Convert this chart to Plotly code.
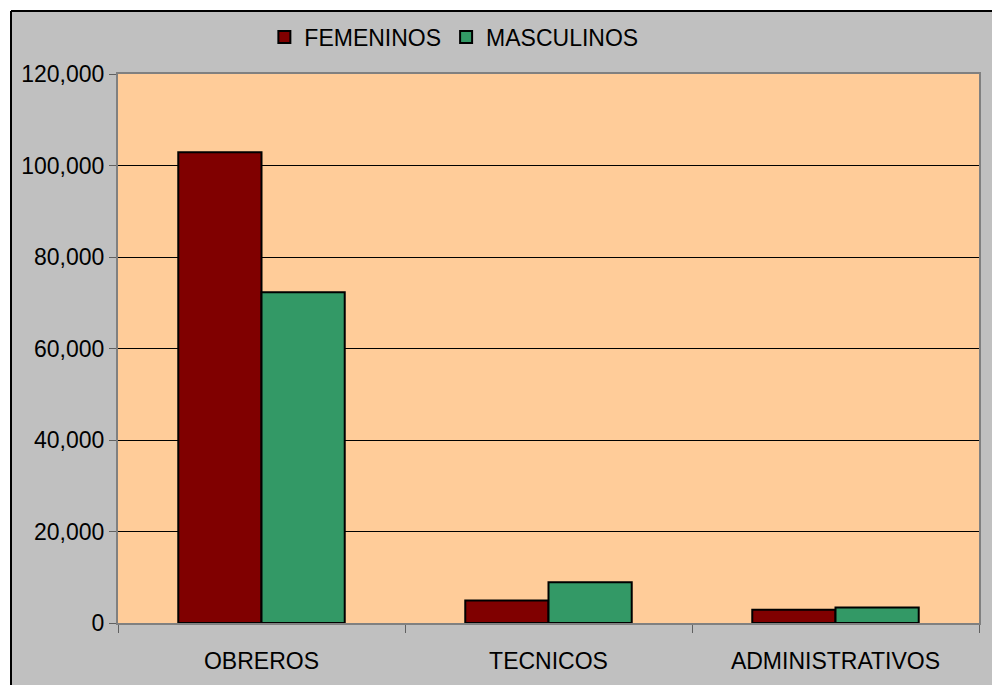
"""Workers by category and sex -- clustered column chart in the old Excel look."""

import plotly.graph_objects as go

CATEGORIES = ["OBREROS", "TECNICOS", "ADMINISTRATIVOS"]
FEMENINOS = [102900, 4900, 2900]
MASCULINOS = [72300, 8900, 3400]
Y_TICKS = [0, 20000, 40000, 60000, 80000, 100000, 120000]

FONT = "Liberation Sans, Arial, sans-serif"
GRAY_BG = "#C0C0C0"

# plot area in pixels, used to place the white frame outside the gray chart area
W, H = 992, 685
L, R, T, B = 118, 13, 74, 62
PW, PH = W - L - R, H - T - B

fig = go.Figure()
fig.add_bar(
    name="FEMENINOS",
    x=CATEGORIES,
    y=FEMENINOS,
    marker=dict(color="#800000", line=dict(color="black", width=2)),
)
fig.add_bar(
    name="MASCULINOS",
    x=CATEGORIES,
    y=MASCULINOS,
    marker=dict(color="#339966", line=dict(color="black", width=2)),
)

# white strips top and left, with the black edge of the chart area
edge_x = -(L - 11) / PW
edge_y = 1 + (T - 11) / PH
fig.add_shape(type="rect", xref="paper", yref="paper",
              x0=-L / PW, x1=1 + R / PW, y0=edge_y, y1=1 + T / PH,
              fillcolor="white", line_width=0)
fig.add_shape(type="rect", xref="paper", yref="paper",
              x0=-L / PW, x1=edge_x, y0=-B / PH, y1=1 + T / PH,
              fillcolor="white", line_width=0)
fig.add_shape(type="line", xref="paper", yref="paper",
              x0=edge_x, x1=1 + R / PW, y0=edge_y, y1=edge_y,
              line=dict(color="black", width=2))
fig.add_shape(type="line", xref="paper", yref="paper",
              x0=edge_x, x1=edge_x, y0=-B / PH, y1=edge_y,
              line=dict(color="black", width=2))

fig.update_layout(
    width=W,
    height=H,
    margin=dict(l=L, r=R, t=T, b=B),
    paper_bgcolor=GRAY_BG,
    plot_bgcolor="#FFCC99",
    barmode="group",
    bargap=0.42,
    bargroupgap=0,
    font=dict(family=FONT, size=23, color="black"),
    legend=dict(
        orientation="h",
        x=0.17,
        xanchor="left",
        y=1 + (T - 37) / PH,
        yanchor="middle",
        bgcolor="rgba(0,0,0,0)",
        font=dict(family=FONT, size=23),
        itemwidth=30,
        tracegroupgap=0,
    ),
)
fig.update_xaxes(
    showline=True,
    linecolor="#808080",
    linewidth=2,
    mirror=True,
    ticks="outside",
    tickson="boundaries",
    ticklen=8,
    tickcolor="#606060",
    ticklabelstandoff=16,
    showgrid=False,
)
fig.update_yaxes(
    range=[0, 120000],
    tickvals=Y_TICKS,
    tickformat=",",
    showline=True,
    linecolor="#808080",
    linewidth=2,
    mirror=True,
    ticks="outside",
    ticklen=7,
    tickcolor="#606060",
    showgrid=True,
    gridcolor="black",
    gridwidth=1,
    zeroline=False,
)

fig.write_html(
    "out.html",
    config={"displayModeBar": False},
    post_script="document.body.style.margin='0';document.body.style.overflow='hidden';",
)
